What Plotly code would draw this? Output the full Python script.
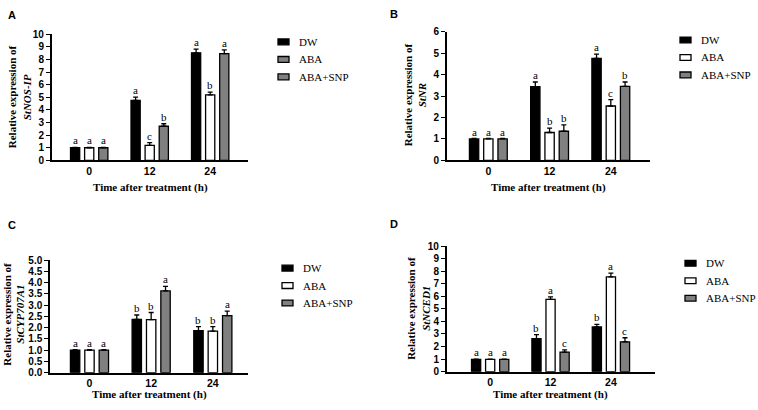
import plotly.graph_objects as go

# ---------------- data ----------------
time_labels = ["0", "12", "24"]
series_names = ["DW", "ABA", "ABA+SNP"]

# Panel A: StNOS-IP
a_dw = [1.0, 4.76, 8.52]
a_aba = [1.0, 1.18, 5.19]
a_snp = [1.0, 2.70, 8.45]
a_dw_err = [0.03, 0.25, 0.3]
a_aba_err = [0.03, 0.22, 0.22]
a_snp_err = [0.03, 0.2, 0.3]
a_dw_let = ["a", "a", "a"]
a_aba_let = ["a", "c", "b"]
a_snp_let = ["a", "b", "a"]

# Panel B: StNR
b_dw = [1.0, 3.44, 4.76]
b_aba = [1.0, 1.30, 2.54]
b_snp = [1.0, 1.36, 3.46]
b_dw_err = [0.02, 0.22, 0.2]
b_aba_err = [0.02, 0.21, 0.3]
b_snp_err = [0.02, 0.3, 0.2]
b_dw_let = ["a", "a", "a"]
b_aba_let = ["a", "b", "c"]
b_snp_let = ["a", "b", "b"]

# Panel C: StCYP707A1
c_dw = [1.0, 2.36, 1.86]
c_aba = [1.0, 2.35, 1.84]
c_snp = [1.0, 3.63, 2.53]
c_dw_err = [0.02, 0.2, 0.18]
c_aba_err = [0.02, 0.32, 0.2]
c_snp_err = [0.02, 0.2, 0.2]
c_dw_let = ["a", "b", "b"]
c_aba_let = ["a", "b", "b"]
c_snp_let = ["a", "a", "a"]

# Panel D: StNCED1
d_dw = [0.98, 2.63, 3.56]
d_aba = [0.98, 5.75, 7.55]
d_snp = [0.98, 1.56, 2.38]
d_dw_err = [0.02, 0.32, 0.2]
d_aba_err = [0.02, 0.2, 0.3]
d_snp_err = [0.02, 0.18, 0.32]
d_dw_let = ["a", "b", "b"]
d_aba_let = ["a", "a", "a"]
d_snp_let = ["a", "c", "c"]

# ---------------- style ----------------
W, H = 758, 410
SANS = "Liberation Sans, Arial, sans-serif"
SERIF = "Liberation Serif, Times New Roman, serif"
bar_colors = ["#000000", "#ffffff", "#808080"]
slot = 0.233
bar_w = 0.152


def px_x(v):
    return v / W


def px_y(v):
    return 1 - v / H


panels = [
    dict(letter="A", gene="StNOS-IP", vals=[a_dw, a_aba, a_snp], errs=[a_dw_err, a_aba_err, a_snp_err],
         lets=[a_dw_let, a_aba_let, a_snp_let], ymax=10, dtick=1, fmt="d",
         xd=(51.7, 248.3), yd=(159, 29), xr=(-0.62, 2.63),
         leg_colors=["#000000", "#808080", "#808080"], leg_x=278, leg_y=37,
         ytitle_x=(12, 27), ytitle_y=94, letter_pos=(6, 9), xtitle_y=187),
    dict(letter="B", gene="StNR", vals=[b_dw, b_aba, b_snp], errs=[b_dw_err, b_aba_err, b_snp_err],
         lets=[b_dw_let, b_aba_let, b_snp_let], ymax=6, dtick=1, fmt="d",
         xd=(446.7, 650), yd=(159, 26.7), xr=(-0.68, 2.64),
         leg_colors=bar_colors, leg_x=680, leg_y=35,
         ytitle_x=(408, 422), ytitle_y=92, letter_pos=(388, 8), xtitle_y=187),
    dict(letter="C", gene="StCYP707A1", vals=[c_dw, c_aba, c_snp], errs=[c_dw_err, c_aba_err, c_snp_err],
         lets=[c_dw_let, c_aba_let, c_snp_let], ymax=5, dtick=0.5, fmt=".1f",
         xd=(50, 248), yd=(377.7, 261.7), xr=(-0.64, 2.57),
         leg_colors=bar_colors, leg_x=282, leg_y=270,
         ytitle_x=(7, 20), ytitle_y=318, letter_pos=(6, 226), xtitle_y=400),
    dict(letter="D", gene="StNCED1", vals=[d_dw, d_aba, d_snp], errs=[d_dw_err, d_aba_err, d_snp_err],
         lets=[d_dw_let, d_aba_let, d_snp_let], ymax=10, dtick=1, fmt="d",
         xd=(446.7, 655), yd=(376.7, 247.3), xr=(-0.72, 2.73),
         leg_colors=bar_colors, leg_x=685, leg_y=265,
         ytitle_x=(411, 426), ytitle_y=312, letter_pos=(388, 225), xtitle_y=400),
]

fig = go.Figure()
annotations = []
shapes = []

for k, p in enumerate(panels):
    n = "" if k == 0 else str(k + 1)
    xa, ya = "x" + n, "y" + n
    for j in range(3):
        offs = (j - 1) * slot
        xs = [i + offs for i in range(3)]
        fig.add_trace(go.Bar(
            x=xs, y=p["vals"][j], width=bar_w, name=series_names[j],
            marker=dict(color=bar_colors[j], line=dict(color="black", width=1.3)),
            error_y=dict(type="data", array=p["errs"][j], arrayminus=[0, 0, 0], symmetric=False,
                         color="black", thickness=1.3, width=2.5),
            showlegend=False, xaxis=xa, yaxis=ya,
        ))
        for i in range(3):
            annotations.append(dict(
                x=xs[i], y=p["vals"][j][i] + p["errs"][j][i], xref=xa, yref=ya,
                text=p["lets"][j][i], showarrow=False, yanchor="bottom", yshift=-1,
                font=dict(family=SERIF, size=11, color="black"),
            ))
    axis_x = dict(
        domain=[px_x(p["xd"][0]), px_x(p["xd"][1])], range=list(p["xr"]),
        tickvals=[0, 1, 2], ticktext=time_labels, ticks="", showgrid=False, zeroline=False,
        showline=True, linecolor="black", linewidth=1.5,
        tickfont=dict(family=SANS, size=10.5, color="black", weight="bold"),
        anchor=ya, fixedrange=True,
    )
    axis_y = dict(
        domain=[px_y(p["yd"][0]), px_y(p["yd"][1])], range=[0, p["ymax"]], dtick=p["dtick"],
        tickformat=p["fmt"], ticks="outside", ticklen=4, tickwidth=1.3, tickcolor="black",
        showgrid=False, zeroline=False, showline=True, linecolor="black", linewidth=1.5,
        tickfont=dict(family=SANS, size=10, color="black", weight="bold"),
        anchor=xa, fixedrange=True,
    )
    fig.update_layout(**{"xaxis" + n: axis_x, "yaxis" + n: axis_y})

    # x title
    annotations.append(dict(
        x=(px_x(p["xd"][0]) + px_x(p["xd"][1])) / 2, y=px_y(p["xtitle_y"]), xref="paper", yref="paper",
        text="<b>Time after treatment (h)</b>", showarrow=False, xanchor="center", yanchor="middle",
        font=dict(family=SERIF, size=11, color="black"),
    ))
    # y title (two lines)
    annotations.append(dict(
        x=px_x(p["ytitle_x"][0]), y=px_y(p["ytitle_y"]), xref="paper", yref="paper",
        text="<b>Relative expression of</b>", showarrow=False, textangle=-90,
        xanchor="center", yanchor="middle", font=dict(family=SERIF, size=11, color="black"),
    ))
    annotations.append(dict(
        x=px_x(p["ytitle_x"][1]), y=px_y(p["ytitle_y"]), xref="paper", yref="paper",
        text="<b><i>" + p["gene"] + "</i></b>", showarrow=False, textangle=-90,
        xanchor="center", yanchor="middle", font=dict(family=SERIF, size=11, color="black"),
    ))
    # panel letter
    annotations.append(dict(
        x=px_x(p["letter_pos"][0]), y=px_y(p["letter_pos"][1]), xref="paper", yref="paper",
        text="<b>" + p["letter"] + "</b>", showarrow=False, xanchor="left", yanchor="middle",
        font=dict(family=SANS, size=11, color="black"),
    ))
    # legend
    for j in range(3):
        cy = p["leg_y"] + j * 18
        lx = p["leg_x"]
        shapes.append(dict(type="rect", xref="paper", yref="paper",
                           x0=px_x(lx), x1=px_x(lx + 11), y0=px_y(cy + 3), y1=px_y(cy - 3),
                           fillcolor=p["leg_colors"][j], line=dict(color="black", width=1.3)))
        annotations.append(dict(
            x=px_x(lx + 19), y=px_y(cy), xref="paper", yref="paper",
            text=series_names[j], showarrow=False, xanchor="left", yanchor="middle",
            font=dict(family=SERIF, size=11, color="black"),
        ))

fig.update_layout(
    width=W, height=H, margin=dict(l=0, r=0, t=0, b=0),
    paper_bgcolor="white", plot_bgcolor="white",
    barmode="overlay", showlegend=False,
    annotations=annotations, shapes=shapes,
)

fig.write_html(
    "out.html",
    config={"displayModeBar": False, "responsive": False},
    post_script="document.body.style.margin='0';document.body.style.padding='0';document.documentElement.style.overflow='hidden';",
)
